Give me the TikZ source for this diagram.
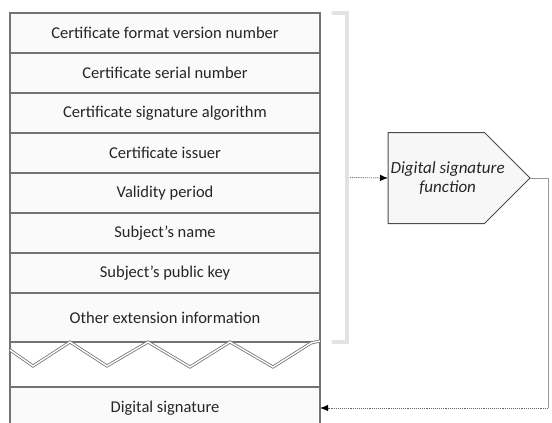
\documentclass[tikz,border=0pt]{standalone}
\usepackage{fontspec}
\setmainfont{Carlito}
\usetikzlibrary{arrows.meta,calc,shapes.symbols,positioning}
\tikzset {
  >={Latex[length=8pt,width=6.5pt,black]},
  every node/.style={font=\fontsize{16.5}{18}\selectfont, text=black!85},
  field/.style={draw=black!55, line width=1.3pt, fill=black!2, outer sep=0pt,
    minimum width=310pt, minimum height=40pt, inner sep=0pt},
  func/.style={signal, signal to=east, signal pointer angle=90, draw=black!70,
    line width=1pt, fill=black!3, minimum width=142pt, minimum height=91pt,
    outer sep=0pt},
  functext/.style={align=center, font=\fontsize{17}{19}\selectfont\itshape},
}

\begin{document}
\begin{tikzpicture}[x=1pt,y=-1pt]
          \useasboundingbox (0,0) rectangle (552,423);
          \node[field] (fmt) at (165,33) {Certificate format version number};
          \node[field, below=0pt of fmt] (serial) {Certificate serial number};
          \node[field, below=0pt of serial] (algo) {Certificate signature algorithm};
          \node[field, below=0pt of algo] (issuer) {Certificate issuer};
          \node[field, below=0pt of issuer] (valid) {Validity period};
          \node[field, below=0pt of valid] (subj) {Subject's name};
          \node[field, below=0pt of subj] (pubkey) {Subject's public key};
          \node[field, below=0pt of pubkey, minimum height=49pt] (other) {Other extension information};
          \node[field, below=45pt of other, minimum height=42pt] (sig) {Digital signature};
          \draw[draw=black!55, line width=1.3pt] (other.south west) -- (sig.north west);
          \draw[draw=black!55, line width=1.3pt] (other.south east) -- (sig.north east);
          \draw[black!55, double=white, double distance=1.4pt, line width=0.8pt]
            (10,350) -- (33,366) -- (70,342) -- (107,366) -- (148,342) -- (190,367)
            -- (230,342) -- (273,367) -- (311,343) -- (320,341);
          \draw[black!11, line width=3.5pt, line cap=round]
            ($(fmt.north east)+(13,0)$) -- ($(fmt.north east)+(27,0)$)
            -- ($(other.south east)+(27,0)$) -- ($(other.south east)+(13,0)$);
          \coordinate (brmid) at ($(fmt.north east)!0.5!(other.south east)+(30,0)$);
          \node[func, anchor=west] (dsf) at (388,178) {};
          \node[functext] (dsftext) at ($(dsf.west)!0.42!(dsf.east)$) {Digital signature\\function};
          \draw[->, densely dotted, line width=0.9pt, black!60] (brmid) -- (dsf.west);
          \coordinate (turn) at (548,178);
          \coordinate (back) at (548,408);
          \draw[black!40, line width=0.8pt] (dsf.east) -- (turn) -- (back);
          \draw[->, densely dotted, line width=0.9pt, black!60] (back) -- (sig.east |- back);
        \end{tikzpicture}
\end{document}
